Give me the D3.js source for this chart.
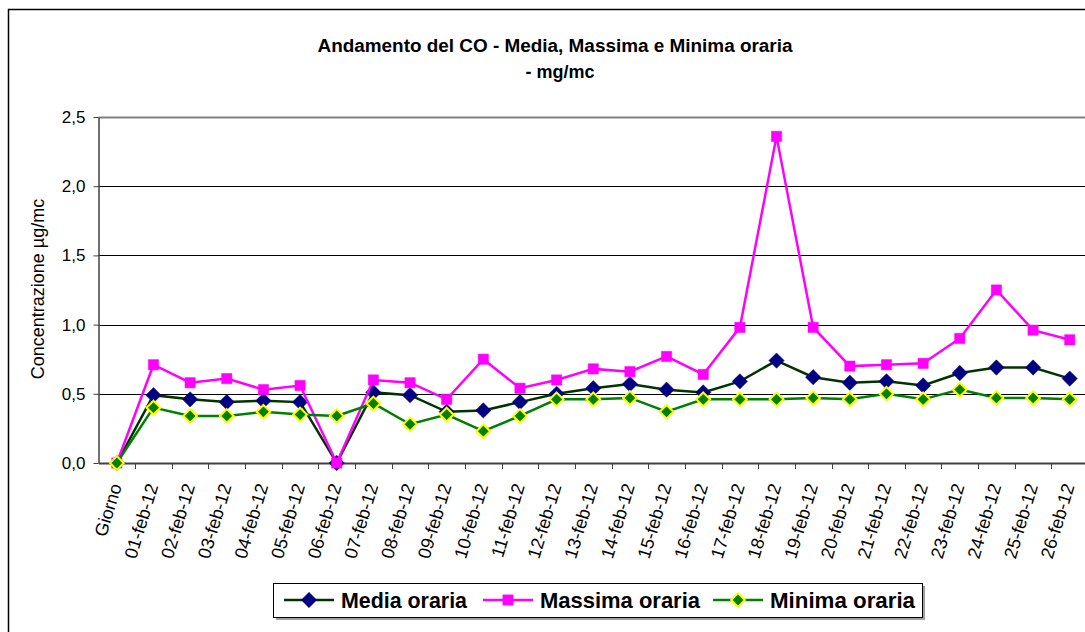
<!DOCTYPE html>
<html>
<head>
<meta charset="utf-8">
<script src="https://cdn.jsdelivr.net/npm/d3@7"></script>
<style>
  body { margin: 0; background: #fff; }
  svg { display: block; font-family: Arial, "Liberation Sans", sans-serif; }
</style>
</head>
<body>
<svg id="canvas" width="1085" height="632"></svg>
<script>
let giorni = ['Giorno', '01-feb-12', '02-feb-12', '03-feb-12', '04-feb-12', '05-feb-12', '06-feb-12',
    '07-feb-12', '08-feb-12', '09-feb-12', '10-feb-12', '11-feb-12', '12-feb-12', '13-feb-12',
    '14-feb-12', '15-feb-12', '16-feb-12', '17-feb-12', '18-feb-12', '19-feb-12', '20-feb-12',
    '21-feb-12', '22-feb-12', '23-feb-12', '24-feb-12', '25-feb-12', '26-feb-12']

let media = [0, 0.49, 0.46, 0.44, 0.45, 0.44, 0, 0.51, 0.49, 0.37, 0.38, 0.44, 0.50, 0.54,
    0.57, 0.53, 0.51, 0.59, 0.74, 0.62, 0.58, 0.59, 0.56, 0.65, 0.69, 0.69, 0.61]
let massima = [0, 0.71, 0.58, 0.61, 0.53, 0.56, 0, 0.60, 0.58, 0.46, 0.75, 0.54, 0.60, 0.68,
    0.66, 0.77, 0.64, 0.98, 2.36, 0.98, 0.70, 0.71, 0.72, 0.90, 1.25, 0.96, 0.89]
let minima = [0, 0.40, 0.34, 0.34, 0.37, 0.35, 0.34, 0.43, 0.28, 0.35, 0.23, 0.34, 0.46, 0.46,
    0.47, 0.37, 0.46, 0.46, 0.46, 0.47, 0.46, 0.50, 0.46, 0.53, 0.47, 0.47, 0.46]

let yTicks = [0, 0.5, 1.0, 1.5, 2.0, 2.5]

let series = [
    {name: 'Media oraria', values: media, line: '#003300', fill: '#000080', stroke: '#000080', shape: d3.symbolDiamond2, size: 150},
    {name: 'Massima oraria', values: massima, line: '#ff00ff', fill: '#ff00ff', stroke: '#ff00ff', shape: d3.symbolSquare2, size: 135},
    {name: 'Minima oraria', values: minima, line: '#008000', fill: '#008000', stroke: '#ffff00', shape: d3.symbolDiamond2, size: 120}
]

let canvas = d3.select('#canvas')
let plotLeft = 98.5, plotTop = 117, plotBottom = 463
let step = 36.65

let x = d3.scaleBand().domain(giorni).range([plotLeft, plotLeft + step * giorni.length])
let y = d3.scaleLinear().domain([0, 2.5]).range([plotBottom, plotTop])
let fmt = (v) => d3.format('.1f')(v).replace('.', ',')

// outer frame
canvas.append('rect')
    .attr('x', 8.5).attr('y', 9.5).attr('width', 1100).attr('height', 660)
    .attr('fill', 'none').attr('stroke', '#000').attr('stroke-width', 1.5)

// gridlines
canvas.selectAll('.grid')
    .data(yTicks.filter(t => t > 0))
    .enter()
    .append('line')
    .attr('x1', plotLeft).attr('x2', 1085)
    .attr('y1', (d) => Math.round(y(d)) + 0.5).attr('y2', (d) => Math.round(y(d)) + 0.5)
    .attr('stroke', (d) => d === 2.5 ? '#808080' : '#000')
    .attr('stroke-width', (d) => d === 2.5 ? 2 : 1)

// y axis
let yAxis = canvas.append('g')
    .attr('transform', 'translate(' + plotLeft + ',0)')
    .call(d3.axisLeft(y).tickValues(yTicks).tickFormat(fmt).tickSize(5).tickSizeOuter(0))
yAxis.select('.domain').attr('stroke', '#404040').attr('stroke-width', 1.5)
yAxis.selectAll('.tick line').attr('stroke', '#404040')
yAxis.selectAll('text')
    .attr('font-size', '17px').attr('fill', '#000')
    .attr('font-family', 'Arial, "Liberation Sans", sans-serif')
    .attr('x', -13)

// x axis
let xAxis = canvas.append('g')
    .attr('transform', 'translate(0,' + plotBottom + ')')
    .call(d3.axisBottom(x).tickSize(0).tickSizeOuter(0))
xAxis.select('.domain').attr('stroke', '#404040').attr('stroke-width', 2)
xAxis.selectAll('.tick line').remove()
xAxis.selectAll('.tick text')
    .attr('font-size', '18px').attr('fill', '#000')
    .attr('font-family', 'Arial, "Liberation Sans", sans-serif')
    .attr('text-anchor', 'end')
    .attr('x', 0).attr('y', 0).attr('dy', 0)
    .attr('transform', 'translate(5,23) rotate(-73)')

// x tick marks at band boundaries
canvas.selectAll('.xtick')
    .data(giorni.slice(1))
    .enter()
    .append('line')
    .attr('x1', (d) => Math.round(x(d)) + 0.5).attr('x2', (d) => Math.round(x(d)) + 0.5)
    .attr('y1', plotBottom).attr('y2', plotBottom + 6)
    .attr('stroke', '#404040').attr('stroke-width', 1)

// series
let cx = (i) => x(giorni[i]) + x.bandwidth() / 2
series.forEach((s) => {
    let line = d3.line().x((d, i) => cx(i)).y((d) => y(d))
    canvas.append('path')
        .datum(s.values)
        .attr('d', line)
        .attr('fill', 'none')
        .attr('stroke', s.line)
        .attr('stroke-width', 2.5)
    canvas.selectAll(null)
        .data(s.values)
        .enter()
        .append('path')
        .attr('d', d3.symbol().type(s.shape).size(s.size))
        .attr('transform', (d, i) => 'translate(' + cx(i) + ',' + y(d) + ')')
        .attr('fill', s.fill)
        .attr('stroke', s.stroke)
        .attr('stroke-width', s.stroke === s.fill ? 0.5 : 2)
})

// titles
canvas.append('text')
    .attr('x', 555).attr('y', 52)
    .attr('text-anchor', 'middle')
    .attr('font-size', '18px').attr('font-weight', 'bold')
    .attr('textLength', 475).attr('lengthAdjust', 'spacingAndGlyphs')
    .text('Andamento del CO - Media, Massima e Minima oraria')
canvas.append('text')
    .attr('x', 560).attr('y', 78)
    .attr('text-anchor', 'middle')
    .attr('font-size', '18px').attr('font-weight', 'bold')
    .text('- mg/mc')

canvas.append('text')
    .attr('transform', 'translate(44,289) rotate(-90)')
    .attr('text-anchor', 'middle')
    .attr('font-size', '18px')
    .text('Concentrazione µg/mc')

// legend
canvas.append('rect')
    .attr('x', 276).attr('y', 586).attr('width', 649).attr('height', 34)
    .attr('fill', '#a0a0a0')
canvas.append('rect')
    .attr('x', 273.5).attr('y', 583.5).attr('width', 649).attr('height', 34)
    .attr('fill', '#fff').attr('stroke', '#000').attr('stroke-width', 1)

let legendX = [284, 483, 713]
let textW = [126, 160, 145]
series.forEach((s, i) => {
    let g = canvas.append('g').attr('transform', 'translate(' + legendX[i] + ',600)')
    g.append('line').attr('x1', 0).attr('x2', 50).attr('stroke', s.line).attr('stroke-width', 2.5)
    g.append('path')
        .attr('d', d3.symbol().type(s.shape).size(s.size))
        .attr('transform', 'translate(25,0)')
        .attr('fill', s.fill).attr('stroke', s.stroke)
        .attr('stroke-width', s.stroke === s.fill ? 0.5 : 2)
    g.append('text')
        .attr('x', 57).attr('y', 8)
        .attr('font-size', '22px').attr('font-weight', 'bold')
        .attr('textLength', textW[i]).attr('lengthAdjust', 'spacingAndGlyphs')
        .text(s.name)
})
</script>
</body>
</html>
